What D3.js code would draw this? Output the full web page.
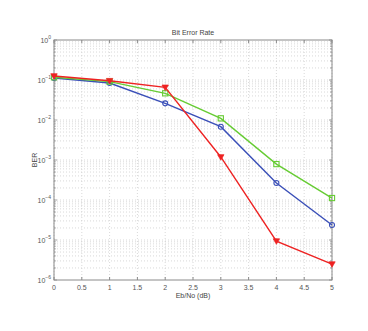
<!DOCTYPE html>
<html><head><meta charset="utf-8">
<script src="https://cdn.jsdelivr.net/npm/d3@7"></script>
<style>body{margin:0;background:#fff}svg{display:block}text{font-family:"Liberation Sans",Arial,sans-serif}</style>
</head><body><svg id="c" width="368" height="331"></svg>
<script>
const ebno = [0, 1, 2, 3, 4, 5];
const berBlue = [0.112, 0.084, 0.0261, 0.0068, 2.66e-4, 2.37e-5];
const berGreen = [0.117, 0.091, 0.0465, 0.011, 7.9e-4, 1.12e-4];
const berRed = [0.126, 0.096, 0.0656, 1.19e-3, 9.4e-6, 2.5e-6];
const xTicks = [0, 0.5, 1, 1.5, 2, 2.5, 3, 3.5, 4, 4.5, 5];
const yExps = [0, -1, -2, -3, -4, -5, -6];
const title = "Bit Error Rate", xLabel = "Eb/No (dB)", yLabel = "BER";

const svg = d3.select("#c");
const L = 54, R = 332, T = 40, B = 280;
const x = d3.scaleLinear().domain([0, 5]).range([L, R]);
const y = d3.scaleLog().domain([1e-6, 1]).range([B, T]);
const gridC = "#cfcfcf", axC = "#8a8a8a", txtC = "#555";

// grid
const g = svg.append("g");
xTicks.forEach(t => g.append("line").attr("x1", x(t)).attr("x2", x(t)).attr("y1", T).attr("y2", B)
  .attr("stroke", gridC).attr("stroke-width", 0.8).attr("stroke-dasharray", "1,2"));
const minor = [];
for (let e = -6; e < 0; e++) for (let m = 1; m <= 9; m++) minor.push({v: m * Math.pow(10, e), major: m === 1});
minor.forEach(d => {
  if (d.major && d.v === 1e-6) return;
  g.append("line").attr("x1", L).attr("x2", R).attr("y1", y(d.v)).attr("y2", y(d.v))
    .attr("stroke", gridC).attr("stroke-width", 0.8).attr("stroke-dasharray", "1,2");
});

// box + ticks
svg.append("rect").attr("x", L).attr("y", T).attr("width", R - L).attr("height", B - T)
  .attr("fill", "none").attr("stroke", axC).attr("stroke-width", 1);
xTicks.forEach(t => {
  svg.append("line").attr("x1", x(t)).attr("x2", x(t)).attr("y1", B).attr("y2", B - 3).attr("stroke", axC);
  svg.append("line").attr("x1", x(t)).attr("x2", x(t)).attr("y1", T).attr("y2", T + 3).attr("stroke", axC);
});
minor.concat([{v: 1, major: true}]).forEach(d => {
  const len = d.major ? 3 : 1.8;
  svg.append("line").attr("x1", L).attr("x2", L + len).attr("y1", y(d.v)).attr("y2", y(d.v)).attr("stroke", axC).attr("stroke-width", 0.8);
  svg.append("line").attr("x1", R).attr("x2", R - len).attr("y1", y(d.v)).attr("y2", y(d.v)).attr("stroke", axC).attr("stroke-width", 0.8);
});

// tick labels
xTicks.forEach(t => svg.append("text").attr("x", x(t)).attr("y", B + 10).attr("text-anchor", "middle")
  .attr("font-size", 7).attr("fill", txtC).text(t));
yExps.forEach(e => {
  const t = svg.append("text").attr("x", L - 3).attr("y", y(Math.pow(10, e)) + 2.5).attr("text-anchor", "end")
    .attr("font-size", 7).attr("fill", txtC);
  t.append("tspan").text("10");
  t.append("tspan").attr("dy", -3.5).attr("font-size", 5).text(e === 0 ? "0" : "\u2212" + (-e));
});

svg.append("text").attr("x", (L + R) / 2).attr("y", 35).attr("text-anchor", "middle").attr("font-size", 7).attr("fill", "#444").text(title);
svg.append("text").attr("x", (L + R) / 2).attr("y", B + 18).attr("text-anchor", "middle").attr("font-size", 7).attr("fill", "#444").text(xLabel);
svg.append("text").attr("transform", `translate(37,${(T + B) / 2}) rotate(-90)`).attr("text-anchor", "middle").attr("font-size", 7).attr("fill", "#444").text(yLabel);

// series
const series = [
  {v: berBlue, c: "#3a4fb8", m: "circle"},
  {v: berGreen, c: "#66cc33", m: "square"},
  {v: berRed, c: "#ee2222", m: "tri"}
];
const line = d3.line().x((d, i) => x(ebno[i])).y(d => y(d));
series.forEach(s => {
  svg.append("path").attr("d", line(s.v)).attr("fill", "none").attr("stroke", s.c).attr("stroke-width", 1.4);
  s.v.forEach((d, i) => {
    const cx = x(ebno[i]), cy = y(d);
    if (s.m === "circle") svg.append("circle").attr("cx", cx).attr("cy", cy).attr("r", 2.5).attr("fill", "none").attr("stroke", s.c).attr("stroke-width", 1.1);
    else if (s.m === "square") svg.append("rect").attr("x", cx - 2.6).attr("y", cy - 2.6).attr("width", 5.2).attr("height", 5.2).attr("fill", "none").attr("stroke", s.c).attr("stroke-width", 1.1);
    else svg.append("path").attr("d", `M${cx - 3.2},${cy - 2.3}L${cx + 3.2},${cy - 2.3}L${cx},${cy + 3.2}Z`).attr("fill", s.c).attr("stroke", s.c).attr("stroke-width", 0.7);
  });
});
</script></body></html>
